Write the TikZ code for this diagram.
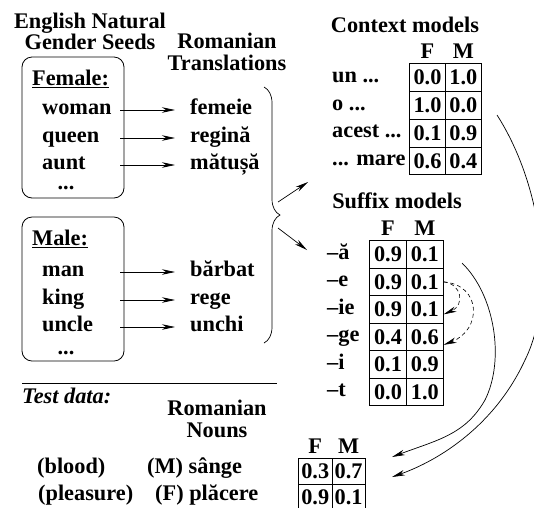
\documentclass[tikz,border=0pt]{standalone}
\usepackage{fontspec}
\setmainfont{Liberation Serif}
\usetikzlibrary{positioning,matrix,arrows.meta,decorations.pathreplacing}

\newcommand{\figfont}{\fontsize{22.3}{21.5}\selectfont\bfseries}

\tikzset{
  every node/.style={font=\figfont, inner sep=0pt},
  headtext/.style={anchor=base},
  word/.style={anchor=west, text height=14.5pt, text depth=5pt},
  seedbox/.style={draw, rounded corners=10pt, line width=0.8pt, minimum width=102pt},
  cell/.style={draw, line width=0.8pt, text height=14.5pt, text depth=0pt},
  stealthtip/.style={-{Stealth[length=13pt,width=5.5pt,inset=4pt]}},
  seedarrow/.style={stealthtip, line width=0.7pt},
  curvearrow/.style={stealthtip, line width=0.7pt},
  dasharrow/.style={stealthtip, line width=0.6pt, dash pattern=on 4pt off 3pt},
}

\begin{document}
\begin{tikzpicture}[x=1pt, y=-1pt]
\useasboundingbox (0,0) rectangle (534,507);

% seeds and translations
\node[headtext, align=center, anchor=north] (seedhead) at (90,12.5) {English Natural\\Gender Seeds};
\node[headtext, align=center, anchor=north] (transhead) at (227,33) {Romanian\\Translations};

\node[seedbox, minimum height=141pt] (fembox) at (73,127.5) {};
\node[word] (female) at (32,80.5) {\underline{Female:}};
\node[word] (woman) at (42,110) {woman};
\node[word] (queen) at (42,138) {queen};
\node[word] (aunt) at (42,165) {aunt};
\node (femdots) at (66,188) {...};

\node[seedbox, minimum height=144pt] (malebox) at (73,289) {};
\node[word] (male) at (32,240.5) {\underline{Male:}};
\node[word] (man) at (42,272) {man};
\node[word] (king) at (42,300) {king};
\node[word] (uncle) at (42,327) {uncle};
\node (maledots) at (66,353) {...};

\node[word] (femeie) at (190,110) {femeie};
\node[word] (regina) at (190,138) {regină};
\node[word] (matusa) at (190,165) {mătușă};
\node[word] (barbat) at (190,272) {bărbat};
\node[word] (rege) at (190,300) {rege};
\node[word] (unchi) at (190,327) {unchi};

\coordinate (arrstart) at (120,0);
\foreach \src/\dst in {woman/femeie, queen/regina, aunt/matusa, man/barbat, king/rege, uncle/unchi}
  \draw[seedarrow] (arrstart |- \src.west) -- ([xshift=-15pt]\dst.west);

% brace to the models
\coordinate (bracetop) at (264,87);
\coordinate (bracebot) at (264,343);
\draw[decorate, decoration={brace, amplitude=16pt}, line width=0.7pt] (bracetop) -- (bracebot);
\coordinate (ctxfrom) at (278,202);
\coordinate (sfxfrom) at (278,228);
\coordinate (toctx) at (308,182);
\coordinate (tosfx) at (307,250);
\draw[seedarrow] (ctxfrom) -- (toctx);
\draw[seedarrow] (sfxfrom) -- (tosfx);

% context models
\node[headtext] (ctxhead) at (405,32) {Context models};
\matrix[matrix of nodes, name=ctx, anchor=north west, inner sep=0pt,
  column sep=-0.8pt, row sep=-0.8pt,
  nodes={cell, minimum width=35.8pt, minimum height=27.8pt}] at (409,63) {
0.0 & 1.0 \\
1.0 & 0.0 \\
0.1 & 0.9 \\
0.6 & 0.4 \\
};
\node[above=5pt of ctx-1-1] {F};
\node[above=5pt of ctx-1-2] {M};
\coordinate (ctxlab) at (332,0);
\node[word] (ctxun) at (ctxlab |- ctx-1-1) {un ...};
\node[word] (ctxo) at (ctxlab |- ctx-2-1) {o ...};
\node[word] (ctxacest) at (ctxlab |- ctx-3-1) {acest ...};
\node[word] (ctxmare) at (ctxlab |- ctx-4-1) {... mare};

% suffix models
\node[headtext] (sfxhead) at (397,208) {Suffix models};
\matrix[matrix of nodes, name=sfx, anchor=north west, inner sep=0pt,
  column sep=-0.8pt, row sep=-0.8pt,
  nodes={cell, minimum width=36.8pt, minimum height=27.5pt}] at (369,240) {
0.9 & 0.1 \\
0.9 & 0.1 \\
0.9 & 0.1 \\
0.4 & 0.6 \\
0.1 & 0.9 \\
0.0 & 1.0 \\
};
\node[above=5pt of sfx-1-1] {F};
\node[above=5pt of sfx-1-2] {M};
\coordinate (sfxlab) at (327,0);
\foreach \row/\txt in {1/–ă, 2/–e, 3/–ie, 4/–ge, 5/–i, 6/–t}
  \node[word] at (sfxlab |- sfx-\row-1) {\txt};

% test data
\draw[line width=0.7pt] (22,383) -- (277,383);
\node[word, font=\figfont\itshape] (testhead) at (22,398.5) {Test data:};
\node[headtext, align=center, anchor=north] (nounhead) at (217,400) {Romanian\\Nouns};
\node[word] (blood) at (37,468.5) {(blood)};
\node[word] (sange) at (147,468.5) {(M) sânge};
\node[word] (pleasure) at (38,495.5) {(pleasure)};
\node[word] (placere) at (155,495.5) {(F) plăcere};
\matrix[matrix of nodes, name=test, anchor=north west, inner sep=0pt,
  column sep=-0.8pt, row sep=-0.8pt,
  nodes={cell, minimum width=33.3pt, minimum height=25.8pt}] at (298,458) {
0.3 & 0.7 \\
0.9 & 0.1 \\
};
\node[above=5pt of test-1-1] {F};
\node[above=5pt of test-1-2] {M};

% model scores to the test nouns
\coordinate (ctxout) at (497,115);
\coordinate (sfxout) at (462,263);
\coordinate (testin1) at (392,457);
\coordinate (testin2) at (392,477);
\draw[curvearrow] (ctxout) .. controls (545,190) and (555,300) .. (525,360)
  .. controls (495,425) and (440,460) .. (testin2);
\draw[curvearrow] (sfxout) .. controls (495,295) and (505,360) .. (485,400)
  .. controls (465,435) and (437,440) .. (testin1);

% suffix back-off
\coordinate (dashto1) at ([yshift=-5pt]sfx-3-2.east);
\coordinate (dashto2) at ([yshift=-8pt]sfx-4-2.east);
\draw[dasharrow] (sfx-2-2.east) .. controls (462,284) and (465,305) .. (dashto1);
\draw[dasharrow] (sfx-2-2.east) .. controls (482,285) and (482,330) .. (dashto2);
\end{tikzpicture}
\end{document}
